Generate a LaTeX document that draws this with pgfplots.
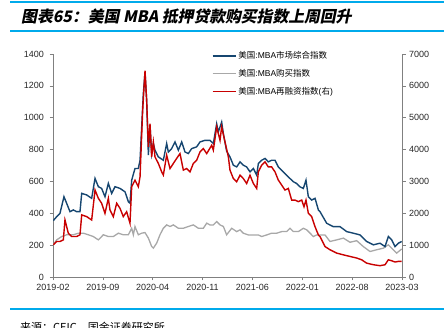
\documentclass[border=0pt]{standalone}
\usepackage{pgfplots}
\usepackage{pgfplotstable}
\pgfplotsset{compat=1.18}
\usepackage{fontspec}
\setmainfont{Liberation Sans}
\newfontfamily\cjk{Noto Sans CJK SC}
\newfontfamily\cjktitle[FakeSlant=0.2]{Noto Sans CJK SC}
\definecolor{mbablue}{RGB}{22,70,112}
\definecolor{mbared}{RGB}{200,0,0}
\definecolor{mbagray}{RGB}{168,168,168}
\definecolor{axisgray}{RGB}{128,128,128}
\definecolor{rule}{RGB}{0,170,235}

\pgfplotstableread{
m v
0.05 354
0.52 379
0.98 400
1.54 504
1.92 462
2.39 410
2.85 421
3.32 410
3.79 410
4.03 525
4.73 515
5.43 494
5.90 619
6.37 567
6.83 556
7.30 504
7.77 588
8.24 525
8.71 567
9.41 556
10.11 535
10.58 473
10.81 463
11.05 608
11.51 681
11.98 681
12.22 733
12.68 1150
12.92 1285
13.15 1108
13.39 765
13.62 952
13.85 775
14.09 838
14.32 796
14.79 754
15.49 733
15.96 838
16.19 785
16.66 806
17.13 848
17.60 796
18.07 848
18.53 785
19.00 775
19.47 806
20.17 817
20.64 848
21.34 858
22.04 858
22.51 838
22.98 962
23.21 910
23.68 973
23.92 900
24.38 790
24.85 754
25.32 702
25.79 691
26.26 723
26.72 702
27.19 691
27.66 660
28.13 681
28.60 639
28.83 712
29.30 733
29.77 744
30.23 723
30.70 733
31.17 733
31.64 691
32.34 660
32.81 639
33.28 618
33.75 598
34.21 587
34.68 566
35.15 556
35.52 608
35.85 504
36.32 483
36.79 494
37.26 421
37.49 410
38.43 337
39.36 316
40.30 316
41.23 285
42.17 275
43.11 264
44.04 223
44.98 202
45.91 212
46.62 191
47.08 254
47.55 233
48.02 191
48.49 212
48.96 223
}\bluedata

\pgfplotstableread{
m v
0.05 202
0.52 233
1.22 254
1.92 265
2.85 265
3.56 275
4.26 275
4.96 265
5.66 254
6.37 233
7.07 265
7.77 254
8.47 254
9.17 275
9.87 265
10.58 265
11.05 306
11.28 265
11.51 317
11.98 265
12.45 275
12.92 279
13.39 244
13.85 192
14.09 181
14.56 213
15.02 265
15.49 306
15.96 327
16.43 317
16.90 327
17.60 306
18.30 306
19.00 317
19.70 327
20.41 306
21.11 306
21.58 338
22.04 327
22.51 327
22.98 348
23.45 327
23.92 317
24.38 265
25.09 306
25.79 285
26.26 296
26.72 275
27.43 264
28.13 264
28.83 264
29.30 254
30.00 264
30.70 275
31.41 275
32.11 285
32.81 285
33.28 306
33.75 285
34.45 285
35.15 306
35.62 296
36.09 275
36.55 254
37.02 264
37.49 264
38.19 264
38.89 223
39.83 233
40.77 244
41.70 218
42.64 228
43.57 191
44.51 160
45.45 171
46.38 181
47.08 202
47.55 181
48.25 150
48.96 176
}\graydata

\pgfplotstableread{
m v
0.05 1010
0.52 1115
0.98 1115
1.45 1165
1.68 1790
2.15 1375
2.62 1270
3.32 1270
3.79 1325
4.03 1950
4.73 1895
5.43 1790
5.90 2730
6.37 2470
6.83 2315
7.30 2000
7.77 2470
8.00 2105
8.47 1895
8.94 2315
9.41 2155
9.87 1895
10.34 2050
10.81 1690
11.05 2835
11.51 3040
11.98 2835
12.22 3145
12.59 5230
12.92 6480
13.15 5540
13.39 4085
13.62 4810
13.85 3770
14.09 4240
14.32 3770
14.79 3565
15.26 3300
15.49 3200
15.96 3825
16.43 3405
16.90 3565
17.36 3720
17.83 3875
18.30 3355
18.77 3405
19.24 3300
19.70 3565
20.17 3665
20.64 3925
21.11 4030
21.58 3875
22.28 4135
22.51 3980
22.98 4710
23.45 4290
23.68 4710
24.15 4240
24.62 3770
24.85 3355
25.32 3090
25.79 2990
26.26 3195
26.72 3090
27.19 2935
27.66 3195
28.13 2935
28.60 2780
28.83 3300
29.30 3510
29.77 3615
30.23 3455
30.70 3455
31.17 3300
31.64 3040
32.11 2885
32.57 2730
33.04 2780
33.51 2415
33.98 2415
34.45 2365
34.92 2415
35.24 2205
35.52 2415
35.85 2000
36.32 1895
36.79 1580
37.26 1320
37.49 1270
38.19 955
38.89 855
39.83 750
40.77 695
41.70 645
42.64 595
43.34 540
44.04 435
44.98 385
45.91 355
46.62 385
47.08 540
47.55 510
48.02 470
48.49 490
48.96 490
}\reddata

\begin{document}
\begin{tikzpicture}[x=1pt,y=1pt]
% title and rules
\draw[rule, line width=1.4pt] (10,326) -- (444,326);
\draw[rule, line width=1.4pt] (10,297) -- (444,297);
\node[anchor=west, inner sep=0pt] at (21,311.5) {\cjktitle\bfseries\fontsize{15.8}{18}\selectfont 图表65：美国 MBA 抵押贷款购买指数上周回升};
\draw[rule, line width=1.4pt] (10,19) -- (444,19);
\node[anchor=north west, inner sep=0pt] at (20,6) {\cjk\fontsize{11}{13}\selectfont 来源：CEIC，国金证券研究所};

\begin{axis}[
  at={(53pt,51pt)}, anchor=south west,
  scale only axis, width=349pt, height=223pt,
  xmin=0, xmax=49, ymin=0, ymax=1400,
  xtick={0,7,14,21,28,35,42,49},
  xticklabels={2019-02,2019-09,2020-04,2020-11,2021-06,2022-01,2022-08,2023-03},
  ytick={0,200,...,1400},
  axis x line*=bottom, axis y line*=left,
  axis line style={draw=axisgray, line width=0.7pt},
  tick style={draw=axisgray, line width=0.6pt},
  tick align=outside, major tick length=3.5pt,
  tick label style={font=\fontsize{9}{10}\selectfont, text=black!85},
  yticklabel style={xshift=-2pt},
  /pgf/number format/assume math mode=true,
  /pgf/number format/1000 sep={},
]
\addplot[mbagray, line width=1.3pt] table[x=m,y=v] {\graydata};
\addplot[mbablue, line width=1.4pt] table[x=m,y=v] {\bluedata};
\end{axis}

\begin{axis}[
  at={(53pt,51pt)}, anchor=south west,
  scale only axis, width=349pt, height=223pt,
  xmin=0, xmax=49, ymin=0, ymax=7000,
  ytick={0,1000,...,7000},
  axis x line=none, axis y line*=right,
  axis line style={draw=axisgray, line width=0.7pt},
  tick style={draw=axisgray, line width=0.6pt},
  tick align=outside, major tick length=3.5pt,
  tick label style={font=\fontsize{9}{10}\selectfont, text=black!85},
  /pgf/number format/assume math mode=true,
  /pgf/number format/1000 sep={},
  legend style={at={(0.455,1.02)}, anchor=north west, draw=none, fill=none,
    font=\fontsize{8.5}{9}\selectfont, row sep=5pt, inner sep=0pt},
  legend cell align=left,
  legend image code/.code={\draw[#1] (0pt,0pt) -- (23pt,0pt);},
]
\addlegendimage{mbablue, line width=1.4pt}
\addlegendentry{{\cjk 美国}:MBA{\cjk 市场综合指数}}
\addlegendimage{mbagray, line width=1.3pt}
\addlegendentry{{\cjk 美国}:MBA{\cjk 购买指数}}
\addplot[mbared, line width=1.4pt] table[x=m,y=v] {\reddata};
\addlegendentry{{\cjk 美国}:MBA{\cjk 再融资指数}({\cjk 右})}
\end{axis}
\pgfresetboundingbox
\path[use as bounding box] (0,0) rectangle (444,328);
\end{tikzpicture}
\end{document}
